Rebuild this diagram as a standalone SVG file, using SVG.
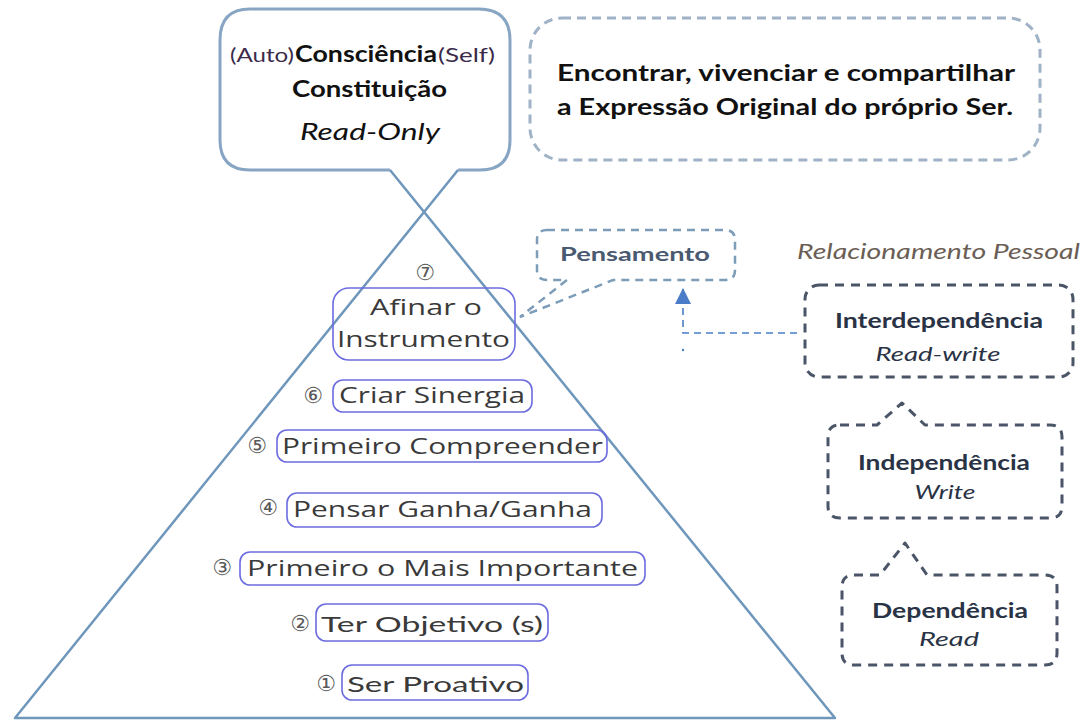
<svg xmlns="http://www.w3.org/2000/svg" width="1086" height="721" viewBox="0 0 1086 721">
<defs>
<style>
.pyr{fill:none;stroke:#6f96bb;stroke-width:2.5;stroke-linejoin:round}
.bub{fill:none;stroke:#88a6c4;stroke-width:3}
.item{fill:none;stroke:#6c6ce0;stroke-width:1.6}
.itxt{font-family:"Open Sans","DejaVu Sans",sans-serif;font-size:22px;fill:#3a3a3a}
.ctxt{font-family:"Liberation Sans Narrow","Lato",sans-serif;font-size:22px;fill:#3a3a3a}
.num{font-family:"DejaVu Sans",sans-serif;font-size:22px;fill:#5a5a5a;text-anchor:middle}
.bold{font-family:"Lato","Noto Sans",sans-serif;font-weight:bold}
.hand{font-family:"Lato","Noto Sans",sans-serif;font-style:italic}
.rbox{fill:none;stroke:#4b5568;stroke-width:3;stroke-dasharray:9 7;stroke-linejoin:round}
.rtxt{font-family:"Lato","Noto Sans",sans-serif;font-weight:bold;font-size:21px;fill:#2a3346;text-anchor:middle}
.rsub{font-family:"Lato","Noto Sans",sans-serif;font-style:italic;font-size:20px;fill:#2a3346;text-anchor:middle}
.conn{fill:none;stroke:#4a7cc8;stroke-width:1.6;stroke-dasharray:7 5}
</style>
<marker id="ah" viewBox="0 0 16 16" refX="15" refY="8" markerWidth="16" markerHeight="16" markerUnits="userSpaceOnUse" orient="auto">
<path d="M0,0 L16,8 L0,16 z" fill="#4a7cc8"/>
</marker>
</defs>
<rect width="1086" height="721" fill="#fff"/>

<g id="pyramid">
<path class="pyr" d="M458,170 L15,718 L835,718 L390,170"/>
</g>

<g id="bubble">
<path class="bub" d="M390,170 L250,170 Q220,170 220,140 L220,40 Q220,9 250,9 L478,9 Q510,9 510,40 L510,140 Q510,170 480,170 L458,170"/>
<text x="230" y="62" font-family="Lato,'Noto Sans',sans-serif" font-size="19" fill="#3b2a4a" textLength="64" lengthAdjust="spacingAndGlyphs">(Auto)</text>
<text x="295" y="62" class="bold" font-size="22" fill="#111" textLength="142" lengthAdjust="spacingAndGlyphs">Consciência</text>
<text x="438" y="62" font-family="Lato,'Noto Sans',sans-serif" font-size="19" fill="#3b2a4a" textLength="57" lengthAdjust="spacingAndGlyphs">(Self)</text>
<text x="292" y="97" class="bold" font-size="22" fill="#111" textLength="155" lengthAdjust="spacingAndGlyphs">Constituição</text>
<text x="300" y="140" class="hand" font-size="24" fill="#111" textLength="140" lengthAdjust="spacingAndGlyphs">Read-Only</text>
</g>

<g id="mission">
<rect x="530" y="18" width="510" height="142" rx="32" fill="none" stroke="#9fb2c6" stroke-width="3" stroke-dasharray="9 6"/>
<text x="557" y="81" class="bold" font-size="23" fill="#111" textLength="458" lengthAdjust="spacingAndGlyphs">Encontrar, vivenciar e compartilhar</text>
<text x="557" y="115" class="bold" font-size="23" fill="#111" textLength="456" lengthAdjust="spacingAndGlyphs">a Expressão Original do próprio Ser.</text>
</g>

<g id="pensamento">
<path d="M547,230 L725,230 Q735,230 735,240 L735,270 Q735,280 725,280 L613,280 L520,317 L567,280 L547,280 Q537,280 537,270 L537,240 Q537,230 547,230 Z" fill="none" stroke="#7d9cb8" stroke-width="2.5" stroke-dasharray="8 6"/>
<text x="560" y="261" class="bold" font-size="18" fill="#4a5a70" textLength="150" lengthAdjust="spacingAndGlyphs">Pensamento</text>
</g>

<g id="step7">
<text x="425" y="280" class="num">⑦</text>
<rect x="333" y="288" width="182" height="72" rx="16" class="item"/>
<text x="370" y="315" class="itxt" textLength="112" lengthAdjust="spacingAndGlyphs">Afinar o</text>
<text x="337" y="347" class="itxt" textLength="173" lengthAdjust="spacingAndGlyphs">Instrumento</text>
</g>

<g id="step6">
<text x="313" y="403" class="num">⑥</text>
<rect x="333" y="380" width="199" height="32" rx="10" class="item"/>
<text x="339" y="403" class="itxt" textLength="186" lengthAdjust="spacingAndGlyphs">Criar Sinergia</text>
</g>

<g id="step5">
<text x="257" y="453" class="num">⑤</text>
<rect x="277" y="430" width="330" height="32" rx="10" class="item"/>
<text x="282" y="454" class="itxt" textLength="321" lengthAdjust="spacingAndGlyphs">Primeiro Compreender</text>
</g>

<g id="step4">
<text x="268" y="515" class="num">④</text>
<rect x="287" y="493" width="315" height="34" rx="10" class="item"/>
<text x="293" y="517" class="itxt" textLength="299" lengthAdjust="spacingAndGlyphs">Pensar Ganha/Ganha</text>
</g>

<g id="step3">
<text x="222" y="575" class="num">③</text>
<rect x="240" y="552" width="405" height="33" rx="10" class="item"/>
<text x="247" y="576" class="itxt" textLength="391" lengthAdjust="spacingAndGlyphs">Primeiro o Mais Importante</text>
</g>

<g id="step2">
<text x="300" y="631" class="num">②</text>
<rect x="316" y="604" width="232" height="37" rx="10" class="item"/>
<text x="321" y="632" class="ctxt" textLength="222" lengthAdjust="spacingAndGlyphs">Ter Objetivo (s)</text>
</g>

<g id="step1">
<text x="326" y="691" class="num">①</text>
<rect x="342" y="665" width="186" height="35" rx="10" class="item"/>
<text x="347" y="692" class="ctxt" textLength="177" lengthAdjust="spacingAndGlyphs">Ser Proativo</text>
</g>

<g id="relacionamento">
<text x="797" y="259" font-family="Lato,'Noto Sans',sans-serif" font-style="italic" font-size="22" fill="#6b5e55" textLength="283" lengthAdjust="spacingAndGlyphs">Relacionamento Pessoal</text>
</g>

<g id="interdependencia">
<rect x="805" y="285" width="268" height="92" rx="14" class="rbox"/>
<text x="939" y="328" class="rtxt" textLength="208" lengthAdjust="spacingAndGlyphs">Interdependência</text>
<text x="938" y="361" class="rsub" textLength="125" lengthAdjust="spacingAndGlyphs">Read-write</text>
</g>

<g id="independencia">
<path class="rbox" d="M840,425 L877,425 L902,403 L925,425 L1050,425 Q1062,425 1062,437 L1062,506 Q1062,518 1050,518 L840,518 Q828,518 828,506 L828,437 Q828,425 840,425 Z"/>
<text x="944" y="470" class="rtxt" textLength="172" lengthAdjust="spacingAndGlyphs">Independência</text>
<text x="945" y="499" class="rsub" textLength="61" lengthAdjust="spacingAndGlyphs">Write</text>
</g>

<g id="dependencia">
<path class="rbox" d="M854,575 L880,575 L905,543 L927,575 L1045,575 Q1057,575 1057,587 L1057,653 Q1057,665 1045,665 L854,665 Q842,665 842,653 L842,587 Q842,575 854,575 Z"/>
<text x="950" y="618" class="rtxt" textLength="156" lengthAdjust="spacingAndGlyphs">Dependência</text>
<text x="949" y="646" class="rsub" textLength="60" lengthAdjust="spacingAndGlyphs">Read</text>
</g>

<g id="connectors">
<path class="conn" d="M797,333 L683,333 L683,289" marker-end="url(#ah)"/>
<circle cx="683" cy="350" r="1.2" fill="#4a7cc8"/>
</g>
</svg>
